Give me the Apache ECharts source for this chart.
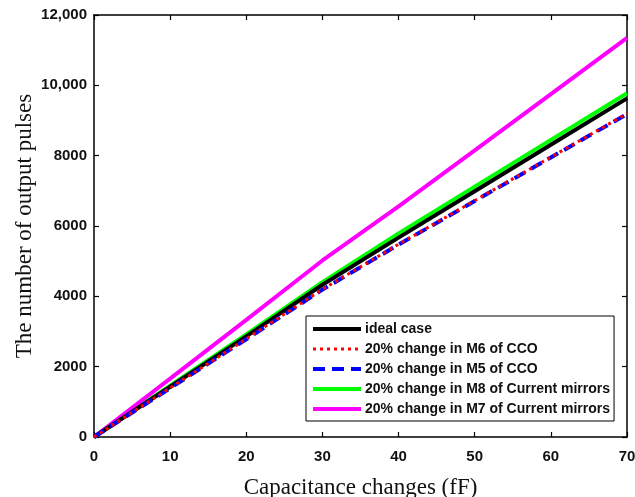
<!DOCTYPE html>
<html>
<head>
<meta charset="utf-8">
<script src="https://cdn.jsdelivr.net/npm/echarts@6/dist/echarts.min.js"></script>
<style>
  html, body { margin: 0; padding: 0; background: #fff; }
  #chart { width: 635px; height: 497px; }
</style>
</head>
<body>
<div id="chart"></div>
<script>
// capacitance change (fF)
const capacitance = [0, 10, 20, 30, 40, 50, 60, 70]
// number of output pulses per case
const idealCase = [0, 1430, 2860, 4330, 5670, 6990, 8310, 9630]
const m6Cco = [0, 1395, 2790, 4200, 5480, 6720, 7960, 9195]
const m5Cco = [0, 1390, 2780, 4190, 5470, 6710, 7950, 9180]
const m8Mirrors = [0, 1460, 2920, 4400, 5790, 7120, 8450, 9775]
const m7Mirrors = [0, 1660, 3330, 5020, 6560, 8150, 9750, 11350]
const yTickLabels = ['0', '2000', '4000', '6000', '8000', '10,000', '12,000']

const pairs = (ys) => capacitance.map((x, i) => [x, ys[i]])

const chart = echarts.init(document.getElementById('chart'))

const labelFont = { fontFamily: 'Liberation Sans', fontSize: 15, fontWeight: 'bold', color: '#111' }
const nameFont = { fontFamily: 'Liberation Serif', fontSize: 23, color: '#111' }
const axisLine = { show: true, onZero: false, lineStyle: { color: '#000', width: 1.5 } }
const ticks = { show: true, inside: true, length: 5, lineStyle: { color: '#000', width: 1.2 } }

const styles = [
  { name: 'ideal case', data: pairs(idealCase), color: '#000000', type: 'solid', width: 4, z: 3 },
  { name: '20% change in M6 of CCO', data: pairs(m6Cco), color: '#ff0000', type: [3, 4], width: 3, z: 5 },
  { name: '20% change in M5 of CCO', data: pairs(m5Cco), color: '#0000ff', type: [12, 7], width: 4, z: 4 },
  { name: '20% change in M8 of Current mirrors', data: pairs(m8Mirrors), color: '#00ff00', type: 'solid', width: 4, z: 2 },
  { name: '20% change in M7 of Current mirrors', data: pairs(m7Mirrors), color: '#ff00ff', type: 'solid', width: 4, z: 2 }
]

const series = styles.map(s => ({
  name: s.name,
  type: 'line',
  data: s.data,
  symbol: 'none',
  z: s.z,
  itemStyle: { color: s.color },
  lineStyle: { color: s.color, type: s.type, width: s.width },
  animation: false
}))

const option = {
  animation: false,
  backgroundColor: '#fff',
  grid: { left: 94, right: 8, top: 15, bottom: 60, outerBoundsMode: 'none' },
  legend: {
    orient: 'vertical',
    left: 306,
    top: 316,
    itemWidth: 48,
    itemHeight: 14,
    itemGap: 6,
    padding: [6, 4, 5, 5],
    borderColor: '#000',
    borderWidth: 1,
    backgroundColor: '#fff',
    itemStyle: { opacity: 0 },
    textStyle: { fontFamily: 'Liberation Sans', fontSize: 14, fontWeight: 'bold', color: '#111', padding: [0, 0, 0, -1] },
    data: styles.map(s => ({
      name: s.name,
      lineStyle: { color: s.color, type: s.type, width: s.width }
    }))
  },
  xAxis: [
    {
      type: 'value', min: 0, max: 70, interval: 10,
      name: 'Capacitance changes (fF)', nameLocation: 'middle', nameGap: 39,
      nameTextStyle: nameFont,
      axisLine, axisTick: ticks, splitLine: { show: false },
      axisLabel: { ...labelFont, margin: 12 }
    },
    {
      type: 'value', min: 0, max: 70, interval: 10, position: 'top',
      axisLine, axisTick: ticks, splitLine: { show: false }, axisLabel: { show: false }
    }
  ],
  yAxis: [
    {
      type: 'value', min: 0, max: 12000, interval: 2000,
      name: 'The number of output pulses', nameLocation: 'middle', nameGap: 58,
      nameMoveOverlap: false,
      nameTextStyle: nameFont,
      axisLine, axisTick: ticks, splitLine: { show: false },
      axisLabel: { ...labelFont, margin: 7, formatter: (v) => yTickLabels[Math.round(v / 2000)] }
    },
    {
      type: 'value', min: 0, max: 12000, interval: 2000, position: 'right',
      axisLine, axisTick: ticks, splitLine: { show: false }, axisLabel: { show: false }
    }
  ],
  series
}

chart.setOption(option)
</script>
</body>
</html>
